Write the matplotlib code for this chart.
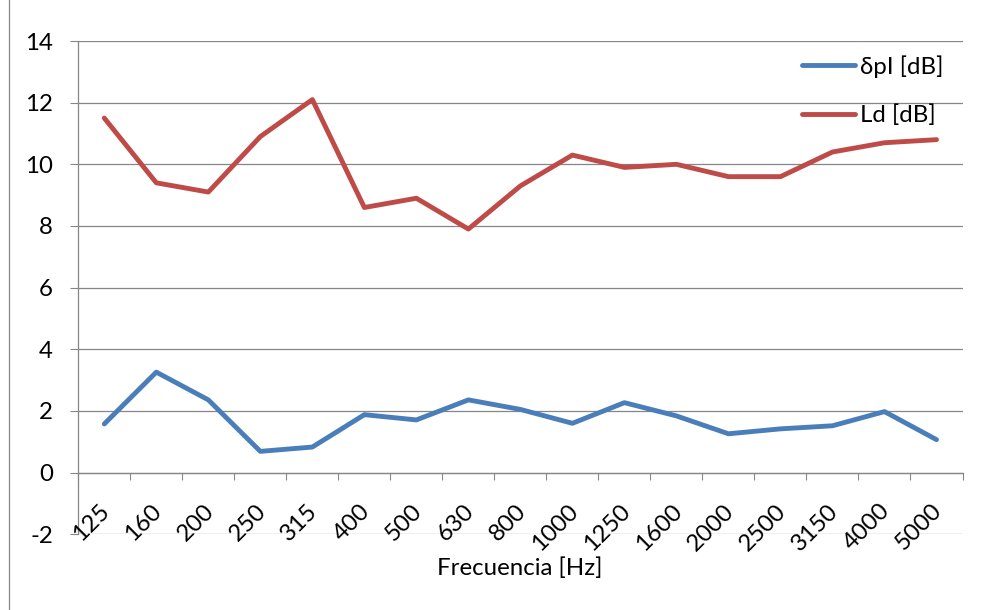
import matplotlib
matplotlib.use("Agg")
import matplotlib.pyplot as plt
from matplotlib.lines import Line2D
import numpy as np

categories = ["125", "160", "200", "250", "315", "400", "500", "630", "800", "1000",
              "1250", "1600", "2000", "2500", "3150", "4000", "5000"]
dpi_values = [1.58, 3.26, 2.36, 0.69, 0.83, 1.88, 1.71, 2.36, 2.05, 1.6,
              2.27, 1.84, 1.26, 1.42, 1.52, 1.98, 1.07]
ld_values = [11.5, 9.4, 9.1, 10.9, 12.1, 8.6, 8.9, 7.9, 9.3, 10.3,
             9.9, 10.0, 9.6, 9.6, 10.4, 10.7, 10.8]
series_names = ["δpI [dB]", "Ld [dB]"]
y_ticks = [-2, 0, 2, 4, 6, 8, 10, 12, 14]
x_label = "Frecuencia [Hz]"

FONT = ["Lato", "DejaVu Sans"]
plt.rcParams["font.family"] = FONT
FS = 17.3
GRID = "#868686"
BLUE = "#4A7EBB"
RED = "#BE4B48"

W, H = 981, 610
fig = plt.figure(figsize=(W / 100, H / 100), dpi=100)
fig.patch.set_facecolor("white")

L, R, T, B = 78.3, 962.5, 41.0, 534.3
ax = fig.add_axes([L / W, 1 - B / H, (R - L) / W, (B - T) / H])
ax.set_facecolor("white")

x = np.arange(len(categories))
ax.set_xlim(-0.5, len(categories) - 0.5)
ax.set_ylim(-2, 14)

ax.set_yticks(y_ticks)
ax.set_yticklabels([str(v) for v in y_ticks])
ax.yaxis.grid(True, color=GRID, linewidth=0.9)
ax.set_axisbelow(True)
ax.tick_params(axis="y", direction="out", length=5.8, width=0.8, color=GRID,
               pad=12.5, labelsize=FS, labelcolor="black")

for s in ["top", "right"]:
    ax.spines[s].set_visible(False)
ax.spines["left"].set_color(GRID)
ax.spines["left"].set_linewidth(0.9)
ax.spines["bottom"].set_position(("data", 0))
ax.spines["bottom"].set_color(GRID)
ax.spines["bottom"].set_linewidth(0.9)

ax.set_xticks(np.arange(-0.5, len(categories), 1.0))
ax.set_xticklabels([])
ax.tick_params(axis="x", direction="out", length=5.2, width=0.8, color=GRID)

l1, = ax.plot(x, dpi_values, color=BLUE, linewidth=3.5, solid_capstyle="round",
              solid_joinstyle="round", zorder=3)
l2, = ax.plot(x, ld_values, color=RED, linewidth=3.5, solid_capstyle="round",
              solid_joinstyle="round", zorder=3)

# rotated category labels
for i, c in enumerate(categories):
    ax.annotate(c, xy=(i, 0), xycoords="data", xytext=(2, -35),
                textcoords="offset pixels", rotation=45, rotation_mode="anchor",
                ha="right", va="center", fontsize=FS, annotation_clip=False)

fig.text(520 / W, 1 - 568 / H, x_label, ha="center", va="center", fontsize=FS)

leg = ax.legend([l1, l2], series_names, loc="upper left",
                bbox_to_anchor=(802 / W, 1 - 55 / H), bbox_transform=fig.transFigure,
                frameon=False, fontsize=FS, handlelength=2.2, handletextpad=0.2,
                labelspacing=1.12, borderaxespad=0, borderpad=0)

# chart frame edge (left)
fig.add_artist(Line2D([9 / W, 9 / W], [0, 1], transform=fig.transFigure,
                      color=GRID, linewidth=0.9))

fig.savefig("out.png", dpi=100, facecolor="white")
